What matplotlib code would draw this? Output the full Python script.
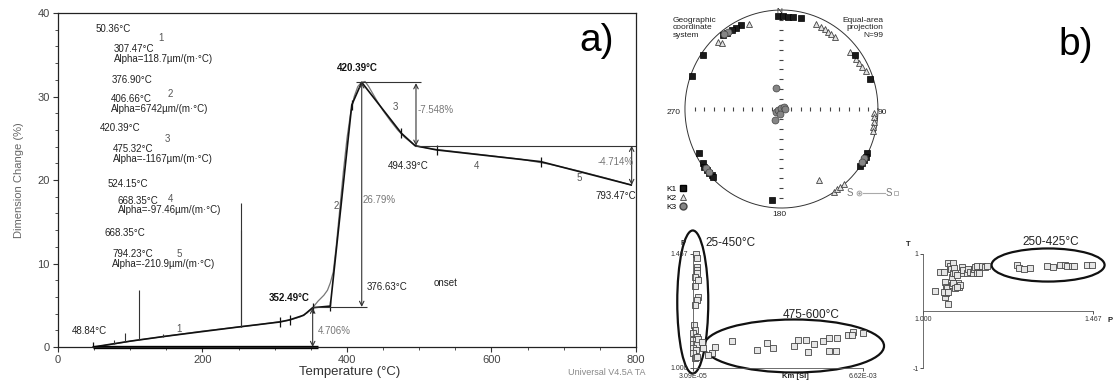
import numpy as np
import matplotlib.pyplot as plt
from matplotlib.patches import Ellipse
from matplotlib.lines import Line2D
from matplotlib.ticker import MultipleLocator

plt.rcParams['font.family'] = ['Liberation Sans', 'DejaVu Sans']

# ---------------- a) dilatometric curve ----------------
temp_meas = [48.84, 55, 65, 80, 100, 125, 150, 175, 200, 225, 250, 275, 300, 320,
             335, 345, 352.49, 360, 368, 373, 377, 381, 385, 390, 395, 400, 405,
             410, 415, 420, 425, 430, 440, 450, 460, 470, 480, 494.39, 520, 560,
             600, 640, 680, 720, 760, 793.47]
dl_meas = [0.0, 0.05, 0.2, 0.4, 0.7, 1.0, 1.3, 1.6, 1.9, 2.15, 2.4, 2.65, 2.95, 3.2,
           3.6, 4.1, 4.706, 5.5, 6.2, 6.8, 7.7, 9.0, 12.0, 16.5, 21.0, 25.0, 28.0,
           30.0, 31.2, 31.7, 31.8, 31.2, 29.7, 28.3, 27.1, 26.0, 25.1, 24.1, 23.7,
           23.3, 22.9, 22.5, 21.9, 21.1, 20.2, 19.4]

temp_fit = [48.84, 100, 150, 200, 250, 307.47, 320.5, 340, 352.49, 376.90, 406.66,
            420.39, 475.32, 494.39, 524.15, 668.35, 793.47]
dl_fit = [0.0, 0.7, 1.3, 1.85, 2.4, 3.0, 3.25, 3.8, 4.706, 4.9, 29.0, 31.7, 25.6,
          24.1, 23.6, 22.2, 19.4]

seg_tick_t = [48.84, 307.47, 320.5, 352.49, 376.90, 406.66, 475.32, 524.15, 668.35]
seg_tick_d = [0.0, 3.0, 3.25, 4.706, 4.9, 29.0, 25.6, 23.6, 22.2]

spike_t = [77, 93, 112, 145, 253, 253]
spike_lo = [0.35, 0.55, 0.8, 1.25, 2.4, 2.4]
spike_hi = [0.8, 1.7, 6.8, 1.5, 17.2, 14.0]

baseline_t = [48.84, 360]
baseline_d = [0, 0]

guide_y = [4.8, 31.7, 24.1]
guide_x0 = [351, 413, 494.39]
guide_x1 = [428, 502, 800]

arrow_t = [352.49, 420.39, 495.5, 794.0]
arrow_lo = [0, 4.8, 24.1, 19.4]
arrow_hi = [4.706, 31.7, 31.6, 24.1]

seg_start = ['50.36', '376.90', '420.39', '524.15', '668.35']
seg_end = ['307.47', '406.66', '475.32', '668.35', '794.23']
seg_alpha = ['118.7', '6742', '-1167', '-97.46', '-210.9']

# ---------------- b) stereonet (equal-area projection coords) ----------------
k1_x = [-0.034, 0.017, 0.069, 0.121, 0.207, -0.421, -0.466, -0.517, -0.569, -0.603,
        -0.817, -0.924, -0.852, -0.817, -0.800, -0.776, -0.748, -0.724, -0.707,
        -0.103, 0.759, 0.914, 0.886, 0.872, 0.852, 0.831, 0.810]
k1_y = [0.939, 0.939, 0.933, 0.926, 0.916, 0.845, 0.822, 0.798, 0.771, 0.747,
        0.545, 0.333, -0.441, -0.549, -0.582, -0.616, -0.643, -0.667, -0.684,
        -0.919, 0.545, 0.300, -0.441, -0.481, -0.515, -0.549, -0.576]
k2_x = [-0.334, -0.655, -0.621, 0.362, 0.414, 0.448, 0.483, 0.517, 0.552, 0.707,
        0.769, 0.803, 0.838, 0.872, 0.955, 0.959, 0.959, 0.952, 0.945, 0.390,
        0.541, 0.576, 0.610, 0.645]
k2_y = [0.855, 0.680, 0.663, 0.859, 0.832, 0.805, 0.781, 0.758, 0.724, 0.579,
        0.502, 0.461, 0.428, 0.387, -0.037, -0.084, -0.131, -0.178, -0.219, -0.717,
        -0.835, -0.811, -0.785, -0.758]
k3_x = [-0.052, -0.059, -0.031, -0.003, 0.024, 0.038, -0.017, -0.069, -0.552, -0.593,
        -0.783, -0.755, 0.852, 0.834]
k3_y = [0.209, -0.027, -0.010, 0.007, 0.017, -0.003, -0.051, -0.111, 0.778, 0.754,
        -0.599, -0.633, -0.498, -0.535]

# ---------------- b) P - Km ----------------
km_min, km_max = 3.09e-5, 6.62e-3
km_vals = [1.472e-4, 1.743e-4, 1.743e-4, 1.743e-4, 1.976e-4, 1.084e-4, 2.131e-4,
           1.084e-4, 2.131e-4, 1.743e-4, 1.084e-4, 6.97e-5, 1.084e-4, 4.25e-5,
           1.743e-4, 4.25e-5, 3.1e-5, 1.743e-4, 2.363e-4, 4.25e-5, 1.472e-4, 3.1e-5,
           1.084e-4, 1.976e-4, 3.681e-4,
           7.557e-4, 8.836e-4, 1.5309e-3, 2.500e-3, 2.9108e-3, 3.1434e-3, 3.9457e-3,
           4.1124e-3, 4.4108e-3, 4.500e-3, 4.7209e-3, 5.0814e-3, 5.3140e-3, 5.3140e-3,
           5.5736e-3, 5.6240e-3, 6.0504e-3, 6.2442e-3, 6.1822e-3, 6.6084e-3,
           6.240e-4, 4.301e-4]
p_vals = [1.4658, 1.4494, 1.4150, 1.4015, 1.3879, 1.3740, 1.3605, 1.3371, 1.2921,
          1.2786, 1.2581, 1.1761, 1.1557, 1.1421, 1.1282, 1.1147, 1.0983, 1.0983,
          1.1176, 1.0807, 1.0737, 1.0602, 1.0397, 1.0463, 1.1077,
          1.0627, 1.0848, 1.1106, 1.0737, 1.1012, 1.0807, 1.0901, 1.1147, 1.1147,
          1.0668, 1.0983, 1.1118, 1.1217, 1.0696, 1.0709, 1.1241, 1.1352, 1.1487,
          1.1352, 1.1446, 1.0533, 1.0807]

# ---------------- b) T - P ----------------
p_tp = [1.0321, 1.0459, 1.0569, 1.0596, 1.0624, 1.0659, 1.0670, 1.0687, 1.0733, 1.0753,
        1.0780, 1.0808, 1.0824, 1.0843, 1.0871, 1.0917, 1.0934, 1.0961, 1.0989, 1.1008,
        1.1055, 1.1082, 1.1099, 1.1192, 1.1236, 1.1283, 1.1357, 1.1393, 1.1420, 1.1467,
        1.1483, 1.1538, 1.1604, 1.1695, 1.1758, 1.0596, 1.0624, 1.0569, 1.0687, 1.0780,
        1.0824, 1.0871, 1.0917,
        1.2566, 1.2637, 1.2766, 1.2931, 1.3390, 1.3571, 1.3755, 1.3893, 1.3956, 1.4077,
        1.4140, 1.4489, 1.4626]
t_tp = [0.351, 0.679, 0.679, 0.514, 0.427, 0.398, 0.123, 0.837, 0.789, 0.731,
        0.602, 0.672, 0.837, 0.760, 0.661, 0.632, 0.439, 0.497, 0.427, 0.456,
        0.778, 0.661, 0.719, 0.661, 0.731, 0.690, 0.661, 0.731, 0.766, 0.789,
        0.672, 0.661, 0.789, 0.778, 0.789, 0.251, 0.310, 0.339, 0.339, 0.456,
        0.497, 0.398, 0.415,
        0.807, 0.749, 0.731, 0.749, 0.789, 0.766, 0.807, 0.807, 0.795, 0.795,
        0.795, 0.807, 0.807]

fig = plt.figure(figsize=(11.15, 3.85), dpi=100)

# ---------------- panel a ----------------
ax = fig.add_axes([0.0520, 0.0987, 0.5184, 0.8675])
ax.set_xlim(0, 800)
ax.set_ylim(0, 40)
ax.set_xticks([0, 200, 400, 600, 800])
ax.set_yticks([0, 10, 20, 30, 40])
ax.xaxis.set_minor_locator(MultipleLocator(50))
ax.yaxis.set_minor_locator(MultipleLocator(2))
ax.tick_params(which='major', length=3.5, width=0.8, labelsize=8, labelcolor='#444',
               color='#333', pad=2.5)
ax.tick_params(which='minor', length=2, width=0.6, color='#333')
for s in ax.spines.values():
    s.set_color('#222')
    s.set_linewidth(0.9)

ax.plot(temp_meas, dl_meas, color='#777', lw=0.9)
ax.plot(temp_fit, dl_fit, color='#111', lw=1.2)
ax.plot(seg_tick_t, seg_tick_d, ls='none', marker='|', ms=7, mew=0.9, color='#111')
ax.vlines(spike_t, spike_lo, spike_hi, color='#333', lw=0.8)
ax.plot(baseline_t, baseline_d, color='k', lw=2.4, clip_on=False, solid_capstyle='butt')
ax.hlines(guide_y, guide_x0, guide_x1, color='#333', lw=0.8)
for t, lo, hi in zip(arrow_t, arrow_lo, arrow_hi):
    ax.annotate('', xy=(t, lo), xytext=(t, hi),
                arrowprops=dict(arrowstyle='<->', color='#333', lw=0.8,
                                shrinkA=0, shrinkB=0, mutation_scale=8))

# fit result table (upper left)
start_pos = [(52, 38.1), (75, 32.0), (58, 26.2), (68, 19.5), (65, 13.7)]
num_pos = [(139, 37.0), (152, 30.3), (148, 24.9), (152, 17.7), (164, 11.1)]
end_pos = [(77, 35.7), (73, 29.7), (76, 23.7), (83, 17.5), (75, 11.1)]
for i in range(5):
    ax.text(*start_pos[i], seg_start[i] + '°C', fontsize=7, va='center', color='#222')
    ax.text(*num_pos[i], str(i + 1), fontsize=7, va='center', color='#555')
    ax.text(*end_pos[i], seg_end[i] + '°C', fontsize=7, va='center', color='#222')
    ax.text(end_pos[i][0], end_pos[i][1] - 1.15, 'Alpha=' + seg_alpha[i] + 'µm/(m·°C)',
            fontsize=7, va='center', color='#222')

grey = '#777'
ax.text(19, 1.9, '48.84°C', fontsize=7, va='center', color='#222')
ax.text(164, 2.15, '1', fontsize=7, va='center', color='#555')
ax.text(360, 1.9, '4.706%', fontsize=7, va='center', color=grey)
ax.text(292, 5.9, '352.49°C', fontsize=7, va='center', color='#111', fontweight='bold')
ax.text(382, 16.9, '2', fontsize=7, va='center', color='#555')
ax.text(422, 17.6, '26.79%', fontsize=7, va='center', color=grey)
ax.text(427, 7.2, '376.63°C', fontsize=7, va='center', color='#222')
ax.text(520, 7.7, 'onset', fontsize=7, va='center', color='#222')
ax.text(386, 33.4, '420.39°C', fontsize=7, va='center', color='#111', fontweight='bold')
ax.text(463, 28.7, '3', fontsize=7, va='center', color='#555')
ax.text(498, 28.4, '-7.548%', fontsize=7, va='center', color=grey)
ax.text(457, 21.7, '494.39°C', fontsize=7, va='center', color='#222')
ax.text(576, 21.7, '4', fontsize=7, va='center', color='#555')
ax.text(718, 20.3, '5', fontsize=7, va='center', color='#555')
ax.text(797, 22.2, '-4.714%', fontsize=7, va='center', ha='right', color=grey)
ax.text(800, 18.1, '793.47°C', fontsize=7, va='center', ha='right', color='#222')
ax.text(0.95, -0.075, 'Universal V4.5A TA', transform=ax.transAxes, fontsize=6.5,
        ha='center', va='center', color='#888')

ax.set_xlabel('Temperature (°C)', fontsize=9.5, color='#333')
ax.xaxis.set_label_coords(0.505, -0.057)
ax.set_ylabel('Dimension Change (%)', fontsize=8, color='#666')
ax.yaxis.set_label_coords(-0.059, 0.5)

fig.text(0.5354, 0.893, 'a)', fontsize=28, ha='center', va='center')
fig.text(0.965, 0.883, 'b)', fontsize=28, ha='center', va='center')

# ---------------- panel b: stereonet ----------------
axs = fig.add_axes([0.6143, 0.4597, 0.1731, 0.5143])
axs.set_xlim(-1, 1)
axs.set_ylim(-1, 1)
axs.axis('off')
th = np.linspace(0, 2 * np.pi, 400)
axs.plot(np.cos(th), np.sin(th), color='#333', lw=0.7, clip_on=False)
rt = np.arange(1, 10) / 10
axs.plot(np.r_[-rt, rt], np.zeros(18), ls='none', marker='|', ms=2.5, mew=0.8, color='#444')
axs.plot(np.zeros(18), np.r_[-rt, rt], ls='none', marker='_', ms=2.5, mew=0.8, color='#444')

axs.plot(k2_x, k2_y, ls='none', marker='^', ms=5, mfc='#e2e2e2', mec='#444', mew=0.6)
axs.plot(k1_x, k1_y, ls='none', marker='s', ms=5, mfc='#1a1a1a', mec='#000', mew=0.5)
axs.plot(k3_x, k3_y, ls='none', marker='o', ms=5, mfc='#858585', mec='#444', mew=0.5)

axs.text(-0.02, 0.98, 'N', fontsize=6, ha='center', va='center', color='#222')
axs.text(0.996, -0.04, '90', fontsize=6, ha='left', va='center', color='#222')
axs.text(-1.04, -0.04, '270', fontsize=6, ha='right', va='center', color='#222')
axs.text(-0.02, -1.07, '180', fontsize=6, ha='center', va='center', color='#222')
axs.text(-1.125, 0.93, 'Geographic\ncoordinate\nsystem', fontsize=6, ha='left', va='top',
         color='#222', linespacing=1.1)
axs.text(1.057, 0.93, 'Equal-area\nprojection\nN=99', fontsize=6, ha='right', va='top',
         color='#222', linespacing=1.1)

handles = [Line2D([], [], ls='none', marker='s', ms=5, mfc='#1a1a1a', mec='#000'),
           Line2D([], [], ls='none', marker='^', ms=5, mfc='#e2e2e2', mec='#444', mew=0.6),
           Line2D([], [], ls='none', marker='o', ms=5, mfc='#858585', mec='#444')]
axs.legend(handles, ['K1', 'K2', 'K3'], markerfirst=False, frameon=False, fontsize=6,
           loc='upper left', bbox_to_anchor=(-0.095, 0.115), borderpad=0,
           labelspacing=0.15, handletextpad=0.2, handlelength=1.0, borderaxespad=0)

axs.text(0.706, -0.85, 'S', fontsize=7, ha='center', va='center', color='#777')
axs.plot([0.80], [-0.85], marker='o', ms=3.5, mfc='none', mec='#999', mew=0.6, clip_on=False)
axs.plot([0.80], [-0.85], marker='.', ms=1.5, color='#999', clip_on=False)
axs.plot([0.85, 1.07], [-0.85, -0.85], color='#aaa', lw=0.8, clip_on=False)
axs.text(1.11, -0.85, 'S', fontsize=7, ha='center', va='center', color='#777')
axs.plot([1.19], [-0.85], marker='s', ms=3, mfc='none', mec='#aaa', mew=0.6, clip_on=False)

# ---------------- panel b: P - Km ----------------
axp = fig.add_axes([0.6215, 0.0442, 0.1525, 0.2961])
axp.set_xlim(km_min, km_max)
axp.set_ylim(1.0, 1.467)
for s in ['top', 'right']:
    axp.spines[s].set_visible(False)
for s in ['left', 'bottom']:
    axp.spines[s].set_color('#555')
    axp.spines[s].set_linewidth(0.6)
axp.set_xticks([km_min, km_max], ['3.09E-05', '6.62E-03'])
axp.set_yticks([1.0, 1.467], ['1.000', '1.467'])
axp.tick_params(labelsize=5, length=2, width=0.6, pad=1.5, colors='#333')
axp.plot(km_vals, p_vals, ls='none', marker='s', ms=4.2, mfc='#e6e6e6', mec='#444',
         mew=0.6, clip_on=False)
axp.add_patch(Ellipse((2.3e-5, 1.2704), 1.2016e-3, 0.5858, fill=False, lw=1.6,
                      ec='#111', clip_on=False))
axp.add_patch(Ellipse((3.9457e-3, 1.0901), 6.977e-3, 0.2171, fill=False, lw=1.6,
                      ec='#111', clip_on=False))
axp.set_xlabel('Km [SI]', fontsize=5.5, fontweight='bold', color='#222')
axp.xaxis.set_label_coords(0.6, -0.044)
axp.text(-0.06, 1.088, 'P', transform=axp.transAxes, fontsize=5.5, fontweight='bold',
         ha='center', va='center', color='#222')
axp.text(0.071, 1.094, '25-450°C', transform=axp.transAxes, fontsize=8.5,
         ha='left', va='center', color='#222')
axp.text(0.694, 0.465, '475-600°C', transform=axp.transAxes, fontsize=8.5,
         ha='center', va='center', color='#222')

# ---------------- panel b: T - P ----------------
axt = fig.add_axes([0.8281, 0.0434, 0.1525, 0.2969])
axt.set_xlim(1.0, 1.467)
axt.set_ylim(-1, 1)
for s in ['top', 'right']:
    axt.spines[s].set_visible(False)
for s in ['left', 'bottom']:
    axt.spines[s].set_color('#555')
    axt.spines[s].set_linewidth(0.6)
axt.spines['bottom'].set_position(('data', 0))
axt.set_xticks([1.0, 1.467], ['1.000', '1.467'])
axt.set_yticks([-1, 1], ['-1', '1'])
axt.tick_params(labelsize=5, length=2, width=0.6, pad=1.5, colors='#333')
axt.plot(p_tp, t_tp, ls='none', marker='s', ms=4.2, mfc='#e6e6e6', mec='#444',
         mew=0.6, clip_on=False)
axt.add_patch(Ellipse((1.3426, 0.807), 0.3104, 0.579, fill=False, lw=1.6,
                      ec='#111', clip_on=False))
axt.text(1.098, 0.416, 'P', transform=axt.transAxes, fontsize=5.5, fontweight='bold',
         ha='center', va='center', color='#222')
axt.text(-0.09, 1.079, 'T', transform=axt.transAxes, fontsize=5.5, fontweight='bold',
         ha='center', va='center', color='#222')
axt.text(0.751, 1.108, '250-425°C', transform=axt.transAxes, fontsize=8.5,
         ha='center', va='center', color='#222')

fig.savefig('out.png', dpi=100)
